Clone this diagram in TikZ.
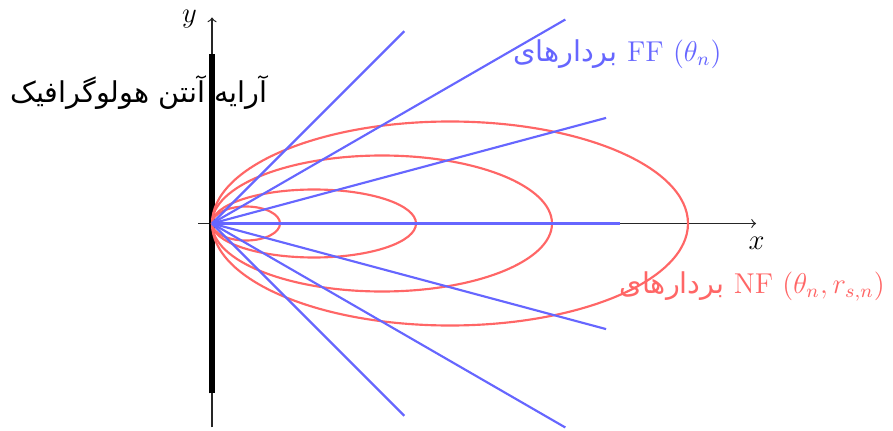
\documentclass[tikz,border=0pt]{standalone}
\usepackage{fontspec}
\newfontfamily\farsi[Script=Arabic]{DejaVu Sans}
\TeXXeTstate=1
\definecolor{ffblue}{RGB}{102,102,255}
\definecolor{nfred}{RGB}{255,102,102}
\tikzset{
  axis/.style={->, line width=0.5pt, draw=black!85},
  antenna/.style={line width=2.2pt, draw=black},
  ffray/.style={draw=ffblue, line width=0.9pt},
  nfbeam/.style={draw=nfred, line width=0.9pt},
  lbl/.style={font=\large, inner sep=0pt}
}
\begin{document}
\begin{tikzpicture}
\useasboundingbox (-3.118,-3.037) rectangle (10.015,3.287);
\coordinate (O) at (0,0);
% axes
\coordinate (xs) at (-0.2,0);
\coordinate (xe) at (8,0);
\coordinate (ys) at (0,-3);
\coordinate (ye) at (0,3.03);
\draw[axis] (xs) -- (xe);
\draw[axis] (ys) -- (ye);
\node[lbl] (xl) at (8.01,-0.287) {$x$};
\node[lbl] (yl) at (-0.33,3.01) {$y$};
% antenna
\coordinate (at) at (0,2.5);
\coordinate (ab) at (0,-2.5);
\draw[antenna] (ab) -- (at);
% NF beams
\foreach \a/\b [count=\i] in {0.5/0.25, 1.5/0.5, 2.5/1, 3.5/1.5}{
  \draw[nfbeam] (\a,0) ellipse [x radius=\a, y radius=\b];
}
% FF rays
\foreach \ang/\len [count=\i] in {45/4, 30/6, 15/6, 0/6, -15/6, -30/6, -45/4}{
  \coordinate (r\i) at (\ang:\len);
  \draw[ffray] (O) -- (r\i);
}
% labels
\node[lbl, anchor=base east] (antl) at (0.82,1.78) {\farsi\beginR آرایه آنتن هولوگرافیک\endR};
\node[lbl, anchor=base east, text=ffblue] (ffl) at (7.5,2.38) {{\farsi\beginR بردارهای\endR} FF $(\theta_n)$};
\node[lbl, anchor=base east, text=nfred] (nfl) at (9.9,-1.03) {{\farsi\beginR بردارهای\endR} NF $(\theta_n, r_{s,n})$};
\end{tikzpicture}
\end{document}
